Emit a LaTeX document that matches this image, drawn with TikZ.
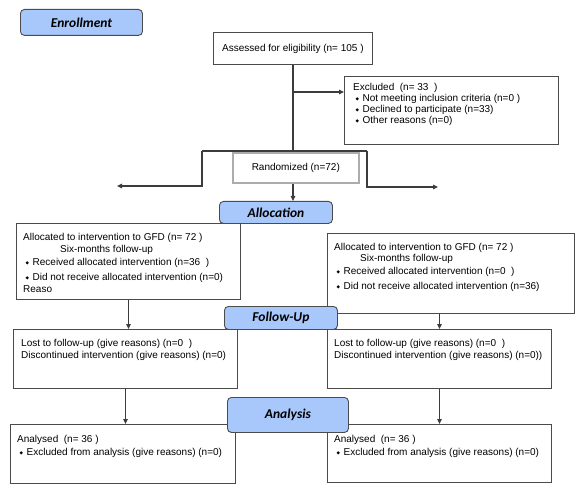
\documentclass[tikz,border=0pt]{standalone}
\usepackage{fontspec}
\setmainfont{Liberation Sans}
\newfontfamily\hdrfont{Carlito}
\newfontfamily\symfont{DejaVu Sans}
\usetikzlibrary{arrows.meta}
\definecolor{hdrblue}{RGB}{168,199,250}
\definecolor{lncol}{RGB}{60,60,60}
\definecolor{bdcol}{RGB}{75,75,75}
\newcommand{\bul}{\hspace*{2.5pt}\raisebox{1pt}{\symfont\fontsize{4.5}{5}\selectfont ◆}\hspace{3.5pt}}
\begin{document}
\begin{tikzpicture}[x=1pt,y=-1pt,
  hdr/.style={draw=bdcol, line width=0.9pt, fill=hdrblue, rounded corners=4pt, anchor=north west, inner sep=0pt, font=\hdrfont\bfseries\itshape\fontsize{13.5}{14}\selectfont},
  box/.style={draw=bdcol, line width=0.9pt, fill=white, anchor=north west, inner sep=0pt},
  txt/.style={anchor=base west, align=left, inner sep=0pt, font=\fontsize{10}{12}\selectfont},
  conn/.style={draw=lncol, line width=1.1pt},
  arr/.style={conn, -{Triangle[length=5pt,width=4.5pt]}}]
\useasboundingbox (0,0) rectangle (580,494);

% boxes
\node[box, minimum width=159pt, minimum height=32pt, font=\fontsize{10}{12}\selectfont] (assess) at (213,32) {Assessed for eligibility (n= 105 )};
\node[box, minimum width=214pt, minimum height=68pt] (excl) at (344,76) {};
\node[box, draw=gray!65, line width=1.6pt, minimum width=126pt, minimum height=30pt, font=\fontsize{10}{12}\selectfont] (rand) at (232,152) {Randomized (n=72)};
\node[box, minimum width=224pt, minimum height=76pt] (allocL) at (16,223) {};
\node[box, minimum width=247pt, minimum height=80pt] (allocR) at (327,233) {};
\node[box, minimum width=224pt, minimum height=59pt] (followL) at (13,329) {};
\node[box, minimum width=224pt, minimum height=59pt] (followR) at (327,329) {};
\node[box, minimum width=225pt, minimum height=59pt] (anaL) at (10,424) {};
\node[box, minimum width=224pt, minimum height=58pt] (anaR) at (327,424) {};

% headers
\node[hdr, minimum width=122pt, minimum height=26pt] (enrollH) at (20,9) {Enrollment};
\node[hdr, minimum width=113pt, minimum height=22pt] (allocH) at (219,201) {Allocation};
\node[hdr, minimum width=113pt, minimum height=23pt] (followH) at (224,306) {Follow-Up};
\node[hdr, minimum width=121pt, minimum height=35pt] (anaH) at (227,397) {Analysis};

% texts (anchor = baseline of the last line)
\node[txt, font=\fontsize{10}{11}\selectfont] (exclT) at (353,123.5) {Excluded~~(n= 33~~)\\
\bul Not meeting inclusion criteria (n=0 )\\
\bul Declined to participate (n=33)\\
\bul Other reasons (n=0)};
\node[txt] (allocLT) at (23,292.5) {Allocated to intervention to GFD (n= 72 )\\
\hspace*{37pt}Six-months follow-up\\[1pt]
\bul Received allocated intervention (n=36~~)\\[3pt]
\bul Did not receive allocated intervention (n=0)\\
Reaso};
\node[txt, font=\fontsize{10}{11}\selectfont] (allocRT) at (334,289.5) {Allocated to intervention to GFD (n= 72 )\\
\hspace*{26pt}Six-months follow-up\\[2pt]
\bul Received allocated intervention (n=0~~)\\[4pt]
\bul Did not receive allocated intervention (n=36)};
\node[txt] (followLT) at (21,358.5) {Lost to follow-up (give reasons) (n=0~~)\\
Discontinued intervention (give reasons) (n=0)};
\node[txt] (followRT) at (334,358.5) {Lost to follow-up (give reasons) (n=0~~)\\
Discontinued intervention (give reasons) (n=0))};
\node[txt, font=\fontsize{10}{13}\selectfont] (anaLT) at (17,455.5) {Analysed~~(n= 36 )\\
\bul Excluded from analysis (give reasons) (n=0)};
\node[txt, font=\fontsize{10}{13}\selectfont] (anaRT) at (334,455.5) {Analysed~~(n= 36 )\\
\bul Excluded from analysis (give reasons) (n=0)};

% connectors
\coordinate (sL) at (202,151);
\coordinate (sR) at (367,151);
\coordinate (eL) at (117,186);
\coordinate (eR) at (438,187);
\coordinate (exS) at (292.5,92);
\draw[conn] (assess.south) -- (assess.south |- rand.north);
\draw[conn] (sL) -- (sR);
\draw[arr] (sL) |- (eL);
\draw[arr] (sR) |- (eR);
\draw[arr] (exS) -- (exS -| excl.west);
\draw[arr] (assess.south |- rand.south) -- (assess.south |- allocH.north);
\draw[arr] (allocL.south) -- (allocL.south |- followL.north);
\draw[arr] (followR.north |- allocR.south) -- (followR.north);
\draw[arr] (followL.south) -- (followL.south |- anaL.north);
\draw[arr] (followR.south) -- (followR.south |- anaR.north);
\end{tikzpicture}
\end{document}
